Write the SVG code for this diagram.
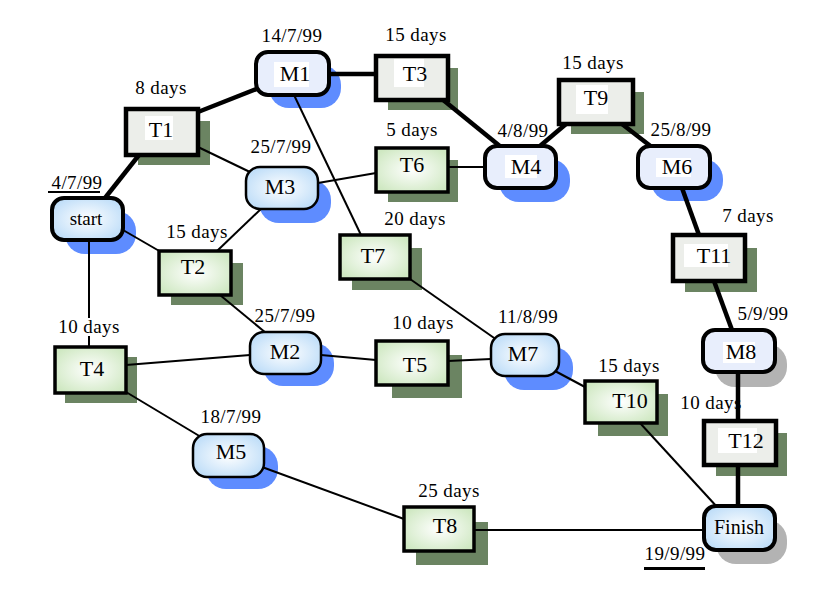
<svg xmlns="http://www.w3.org/2000/svg" width="840" height="600" viewBox="0 0 840 600">
<defs>
<radialGradient id="gGreen" cx="50%" cy="50%" r="60%">
<stop offset="0" stop-color="#ffffff"/>
<stop offset="1" stop-color="#cfe8c2"/>
</radialGradient>
<radialGradient id="gBlue" cx="50%" cy="50%" r="60%">
<stop offset="0" stop-color="#ffffff"/>
<stop offset="1" stop-color="#bcdcf8"/>
</radialGradient>
<style>
.sh-t{fill:#6b8462}
.sh-b{fill:#5e8cff}
.sh-g{fill:#b3b3b3}
.crit{stroke:#000;stroke-width:4.5;fill:none}
.thin{stroke:#000;stroke-width:2;fill:none}
.tg{fill:#eceeea;stroke:#000;stroke-width:4.5}
.tgr{fill:url(#gGreen);stroke:#000;stroke-width:3.5}
.mf{fill:#e8eefc;stroke:#000;stroke-width:4}
.mg{fill:url(#gBlue);stroke:#000;stroke-width:2.5}
.mgt{fill:url(#gBlue);stroke:#000;stroke-width:4}
.wb{fill:#ffffff}
.nl{font-family:"Liberation Serif", "Times New Roman", serif;font-size:22px;fill:#000;text-anchor:middle}
.an{font-family:"Liberation Serif", "Times New Roman", serif;font-size:19px;letter-spacing:0.4px;fill:#000;text-anchor:middle}
.ul{stroke:#000}
</style>
</defs>
<rect width="840" height="600" fill="#ffffff"/>

<g id="shadows">
<rect class="sh-b" x="65" y="211" width="71" height="43" rx="20"/>
<rect class="sh-t" x="138" y="121" width="72" height="44"/>
<rect class="sh-b" x="269" y="65" width="72" height="43" rx="20"/>
<rect class="sh-t" x="388" y="68" width="70" height="42"/>
<rect class="sh-b" x="499" y="159" width="71" height="43" rx="20"/>
<rect class="sh-t" x="571" y="92" width="73" height="42"/>
<rect class="sh-b" x="651" y="159" width="72" height="42" rx="20"/>
<rect class="sh-t" x="685" y="248" width="72" height="44"/>
<rect class="sh-g" x="715" y="344" width="72" height="43" rx="20"/>
<rect class="sh-t" x="716" y="433" width="71" height="43"/>
<rect class="sh-g" x="716" y="520" width="71" height="44" rx="20"/>
<rect class="sh-b" x="259" y="180" width="72" height="43" rx="20"/>
<rect class="sh-t" x="171" y="263" width="72" height="42"/>
<rect class="sh-t" x="388" y="160" width="70" height="42"/>
<rect class="sh-t" x="352" y="248" width="70" height="42"/>
<rect class="sh-b" x="263" y="343" width="71" height="43" rx="20"/>
<rect class="sh-t" x="392" y="355" width="70" height="43"/>
<rect class="sh-b" x="504" y="347" width="69" height="43" rx="20"/>
<rect class="sh-t" x="598" y="394" width="70" height="42"/>
<rect class="sh-t" x="65" y="357" width="72" height="46"/>
<rect class="sh-b" x="206" y="446" width="72" height="43" rx="20"/>
<rect class="sh-t" x="416" y="522" width="72" height="43"/>
</g>

<g id="connectors">
<line class="crit" x1="105" y1="198" x2="139" y2="155"/>
<line class="crit" x1="198" y1="112" x2="259" y2="88"/>
<line class="crit" x1="329" y1="74" x2="376" y2="74"/>
<line class="crit" x1="442" y1="99" x2="501" y2="147"/>
<line class="crit" x1="540" y1="146" x2="566" y2="124"/>
<line class="crit" x1="622" y1="124" x2="653" y2="148"/>
<line class="crit" x1="682" y1="188" x2="699" y2="235"/>
<line class="crit" x1="714" y1="281" x2="732" y2="330"/>
<line class="crit" x1="738" y1="372" x2="738" y2="421"/>
<line class="crit" x1="738" y1="465" x2="738" y2="506"/>
<line class="thin" x1="123" y1="230" x2="161" y2="252"/>
<line class="thin" x1="89" y1="240" x2="89" y2="347"/>
<line class="thin" x1="198" y1="147" x2="252" y2="173"/>
<line class="thin" x1="294" y1="95" x2="361" y2="235"/>
<line class="thin" x1="262" y1="208" x2="217" y2="251"/>
<line class="thin" x1="318" y1="183" x2="376" y2="173"/>
<line class="thin" x1="448" y1="167" x2="485" y2="167"/>
<line class="thin" x1="220" y1="295" x2="266" y2="333"/>
<line class="thin" x1="126" y1="365" x2="250" y2="355"/>
<line class="thin" x1="321" y1="355" x2="376" y2="360"/>
<line class="thin" x1="448" y1="361" x2="491" y2="359"/>
<line class="thin" x1="410" y1="279" x2="497" y2="340"/>
<line class="thin" x1="555" y1="371" x2="585" y2="387"/>
<line class="thin" x1="640" y1="423" x2="718" y2="508"/>
<line class="thin" x1="126" y1="392" x2="201" y2="437"/>
<line class="thin" x1="262" y1="467" x2="404" y2="519"/>
<line class="thin" x1="474" y1="530" x2="704" y2="530"/>
</g>

<g id="start">
<rect class="mgt" x="52" y="198" width="71" height="42" rx="12"/>
<text class="nl" x="86" y="225" style="font-size:19px">start</text>
<text class="an" x="77" y="189">4/7/99</text>
<line class="ul" x1="48" y1="192" x2="100" y2="192" stroke-width="2"/>
</g>
<g id="T1">
<rect class="tg" x="126" y="109" width="72" height="46"/>
<rect class="wb" x="145" y="116" width="28" height="24"/>
<text class="nl" x="161" y="137">T1</text>
<text class="an" x="161" y="94">8 days</text>
</g>
<g id="M1">
<rect class="mf" x="256" y="52" width="73" height="43" rx="12"/>
<rect class="wb" x="274" y="62" width="35" height="25"/>
<text class="nl" x="295" y="81">M1</text>
<text class="an" x="292" y="42">14/7/99</text>
</g>
<g id="T3">
<rect class="tg" x="376" y="56" width="72" height="44"/>
<rect class="wb" x="394" y="59" width="30" height="28"/>
<text class="nl" x="415" y="81">T3</text>
<text class="an" x="416" y="41">15 days</text>
</g>
<g id="M4">
<rect class="mf" x="485" y="146" width="71" height="42" rx="12"/>
<rect class="wb" x="505" y="155" width="32" height="23"/>
<text class="nl" x="526" y="174">M4</text>
<text class="an" x="523" y="137">4/8/99</text>
</g>
<g id="T9">
<rect class="tg" x="559" y="80" width="74" height="44"/>
<rect class="wb" x="576" y="85" width="32" height="29"/>
<text class="nl" x="596" y="105">T9</text>
<text class="an" x="593" y="69">15 days</text>
</g>
<g id="M6">
<rect class="mf" x="638" y="146" width="72" height="42" rx="12"/>
<rect class="wb" x="656" y="158" width="35" height="19"/>
<text class="nl" x="677" y="174">M6</text>
<text class="an" x="681" y="136">25/8/99</text>
</g>
<g id="T11">
<rect class="tg" x="673" y="235" width="72" height="46"/>
<rect class="wb" x="684" y="244" width="44" height="23"/>
<text class="nl" x="714" y="263">T11</text>
<text class="an" x="748" y="222">7 days</text>
</g>
<g id="M8">
<rect class="mf" x="703" y="330" width="72" height="42" rx="12"/>
<rect class="wb" x="723" y="342" width="32" height="21"/>
<text class="nl" x="741" y="359">M8</text>
<text class="an" x="763" y="320">5/9/99</text>
</g>
<g id="T12">
<rect class="tg" x="704" y="421" width="72" height="44"/>
<rect class="wb" x="718" y="428" width="39" height="25"/>
<text class="nl" x="746" y="448">T12</text>
<text class="an" x="711" y="409">10 days</text>
</g>
<g id="Finish">
<rect class="mgt" x="704" y="506" width="71" height="44" rx="12"/>
<text class="nl" x="739" y="534" style="font-size:20px">Finish</text>
<text class="an" x="675" y="560">19/9/99</text>
<line class="ul" x1="644" y1="568.5" x2="705" y2="568.5" stroke-width="3"/>
</g>
<g id="M3">
<rect class="mg" x="246" y="167" width="72" height="42" rx="14"/>
<text class="nl" x="280" y="194">M3</text>
<text class="an" x="281" y="153">25/7/99</text>
</g>
<g id="T2">
<rect class="tgr" x="159" y="251" width="72" height="44"/>
<text class="nl" x="193" y="274">T2</text>
<text class="an" x="197" y="238">15 days</text>
</g>
<g id="T6">
<rect class="tgr" x="376" y="148" width="72" height="44"/>
<text class="nl" x="412" y="172">T6</text>
<text class="an" x="412" y="136">5 days</text>
</g>
<g id="T7">
<rect class="tgr" x="340" y="235" width="70" height="44"/>
<text class="nl" x="373" y="263">T7</text>
<text class="an" x="415" y="225">20 days</text>
</g>
<g id="M2">
<rect class="mg" x="250" y="332" width="71" height="42" rx="14"/>
<text class="nl" x="285" y="359">M2</text>
<text class="an" x="285" y="322">25/7/99</text>
</g>
<g id="T5">
<rect class="tgr" x="376" y="341" width="72" height="44"/>
<text class="nl" x="415" y="372">T5</text>
<text class="an" x="423" y="329">10 days</text>
</g>
<g id="M7">
<rect class="mg" x="491" y="334" width="68" height="42" rx="14"/>
<text class="nl" x="523" y="361">M7</text>
<text class="an" x="528" y="323">11/8/99</text>
</g>
<g id="T10">
<rect class="tgr" x="585" y="381" width="72" height="42"/>
<text class="nl" x="630" y="408">T10</text>
<text class="an" x="629" y="372">15 days</text>
</g>
<g id="T4">
<rect class="tgr" x="55" y="347" width="71" height="46"/>
<text class="nl" x="92" y="376">T4</text>
<rect class="wb" x="58" y="318" width="62" height="18"/>
<text class="an" x="89" y="333">10 days</text>
</g>
<g id="M5">
<rect class="mg" x="193" y="434" width="71" height="43" rx="14"/>
<text class="nl" x="231" y="459">M5</text>
<text class="an" x="231" y="423">18/7/99</text>
</g>
<g id="T8">
<rect class="tgr" x="404" y="507" width="70" height="44"/>
<text class="nl" x="445" y="533">T8</text>
<text class="an" x="449" y="497">25 days</text>
</g>
</svg>
